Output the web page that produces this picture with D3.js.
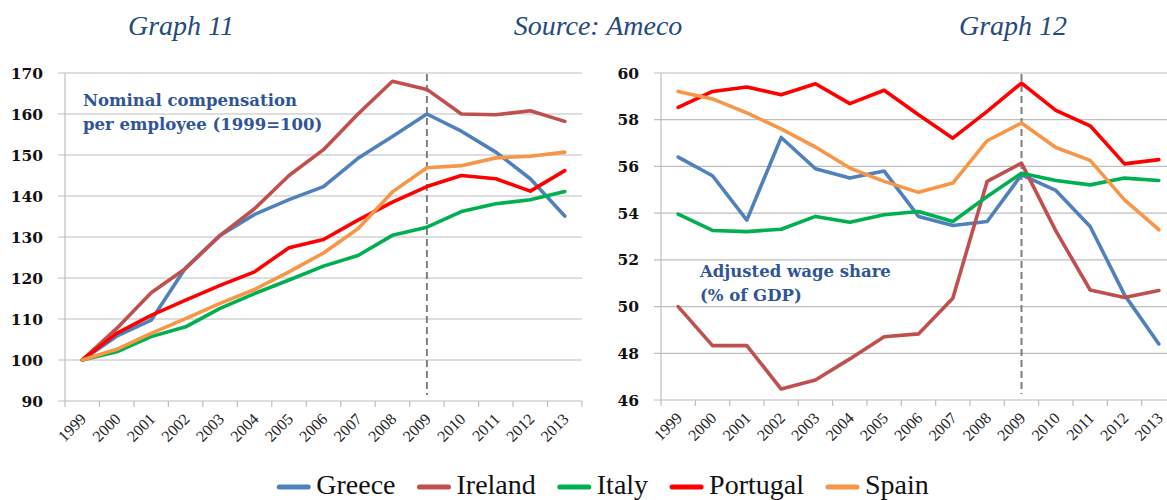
<!DOCTYPE html>
<html>
<head>
<meta http-equiv="Content-Type" content="text/html;charset=utf-8">
<title>Graph 11 / Graph 12</title>
<style>
body { margin: 0; background: #fff; }
svg { display: block; }
</style>
</head>
<body>
<svg id="chart" width="1167" height="500"></svg>
<script src="https://cdn.jsdelivr.net/npm/d3@7"></script>
<script>
var years = ["1999","2000","2001","2002","2003","2004","2005","2006","2007","2008","2009","2010","2011","2012","2013"];
var countries = ["Greece", "Ireland", "Italy", "Portugal", "Spain"];
var colors = ["#4F81BD", "#C0504D", "#00B050", "#FF0000", "#F79646"];

// Graph 11: nominal compensation per employee (1999=100)
var compGreece   = [100, 105.8, 109.7, 122.5, 130.4, 135.5, 139.1, 142.3, 149.2, 154.5, 160.0, 155.8, 150.7, 144.2, 135.1];
var compIreland  = [100, 107.7, 116.4, 122.3, 130.4, 136.9, 145.0, 151.3, 160.0, 168.0, 166.0, 160.0, 159.8, 160.8, 158.2];
var compItaly    = [100, 102.0, 105.7, 108.1, 112.6, 116.2, 119.5, 122.9, 125.5, 130.4, 132.4, 136.2, 138.1, 139.1, 141.1];
var compPortugal = [100, 106.5, 110.9, 114.6, 118.2, 121.5, 127.4, 129.4, 134.1, 138.5, 142.3, 145.0, 144.2, 141.2, 146.2];
var compSpain    = [100, 102.6, 106.5, 110.1, 113.8, 117.2, 121.5, 126.1, 132.0, 141.0, 146.9, 147.4, 149.3, 149.7, 150.7];
var compTicks = [90, 100, 110, 120, 130, 140, 150, 160, 170];

// Graph 12: adjusted wage share (% of GDP)
var wageGreece   = [56.4, 55.6, 53.7, 57.24, 55.9, 55.5, 55.8, 53.86, 53.47, 53.64, 55.64, 54.97, 53.43, 50.5, 48.4];
var wageIreland  = [50.0, 48.33, 48.33, 46.47, 46.86, 47.76, 48.71, 48.83, 50.36, 55.36, 56.14, 53.24, 50.71, 50.39, 50.69];
var wageItaly    = [53.96, 53.26, 53.21, 53.31, 53.86, 53.61, 53.93, 54.07, 53.64, 54.71, 55.71, 55.4, 55.21, 55.5, 55.4];
var wagePortugal = [58.53, 59.21, 59.4, 59.07, 59.54, 58.69, 59.26, 58.21, 57.21, 58.36, 59.57, 58.4, 57.74, 56.11, 56.29];
var wageSpain    = [59.21, 58.89, 58.29, 57.61, 56.83, 55.93, 55.36, 54.89, 55.29, 57.1, 57.86, 56.81, 56.26, 54.57, 53.29];
var wageTicks = [46, 48, 50, 52, 54, 56, 58, 60];

var svg = d3.select("#chart");

function drawPanel(opt) {
    var g = svg.append("g");
    var x = d3.scaleBand().domain(years).range([opt.x0, opt.x1]);
    var y = d3.scaleLinear().domain(opt.domain).range([opt.y0, opt.y1]);

    // gridlines (with small outward ticks)
    g.selectAll("line.grid").data(opt.ticks).enter().append("line")
        .attr("x1", opt.x0 - 7).attr("x2", opt.x1)
        .attr("y1", function(d) { return y(d); }).attr("y2", function(d) { return y(d); })
        .attr("stroke", "#BEBEBE").attr("stroke-width", 1.2);

    // y axis line
    g.append("line").attr("x1", opt.x0).attr("x2", opt.x0)
        .attr("y1", opt.y1).attr("y2", opt.y0)
        .attr("stroke", "#BEBEBE").attr("stroke-width", 1.2);

    // x tick marks at category boundaries
    var bounds = years.map(function(d) { return x(d); }).concat([opt.x1]);
    g.selectAll("line.xt").data(bounds).enter().append("line")
        .attr("x1", function(d) { return d; }).attr("x2", function(d) { return d; })
        .attr("y1", opt.y0).attr("y2", opt.y0 + 6)
        .attr("stroke", "#BEBEBE").attr("stroke-width", 1.2);

    // y tick labels
    g.selectAll("text.yl").data(opt.ticks).enter().append("text")
        .attr("x", opt.x0 - 22).attr("y", function(d) { return y(d) + 5.5; })
        .attr("text-anchor", "end")
        .style("font-family", "'DejaVu Serif', serif").style("font-weight", "bold")
        .style("font-size", "15.5px").attr("fill", "#111")
        .text(function(d) { return d; });

    // x tick labels
    g.selectAll("text.xl").data(years).enter().append("text")
        .attr("transform", function(d) {
            return "translate(" + (x(d) + x.bandwidth() / 2 + 5) + "," + (opt.y0 + 19) + ") rotate(-45)";
        })
        .attr("text-anchor", "end")
        .style("font-family", "'Liberation Serif', serif")
        .style("font-size", "16px").attr("fill", "#222")
        .text(function(d) { return d; });

    // 2009 dashed marker
    g.append("line")
        .attr("x1", x("2009") + x.bandwidth() / 2).attr("x2", x("2009") + x.bandwidth() / 2)
        .attr("y1", opt.y1 + 1).attr("y2", opt.y0 - 6)
        .attr("stroke", "#7F7F7F").attr("stroke-width", 2)
        .attr("stroke-dasharray", "7,4");

    var line = d3.line()
        .x(function(d, i) { return x(years[i]) + x.bandwidth() / 2; })
        .y(function(d) { return y(d); });

    g.selectAll("path.series").data(opt.series).enter().append("path")
        .attr("d", function(d) { return line(d); })
        .attr("fill", "none")
        .attr("stroke", function(d, i) { return colors[i]; })
        .attr("stroke-width", 3.6)
        .attr("stroke-linejoin", "round")
        .attr("stroke-linecap", "round");

    // annotation
    var note = g.append("text")
        .style("font-family", "'DejaVu Serif', serif").style("font-weight", "bold")
        .style("font-size", "16.5px").attr("fill", "#2F5597");
    opt.note.forEach(function(t, i) {
        note.append("tspan").attr("x", opt.noteX).attr("y", opt.noteY + i * 24).text(t);
    });
}

drawPanel({
    x0: 65, x1: 582, y0: 401, y1: 73,
    domain: [90, 170], ticks: compTicks,
    series: [compGreece, compIreland, compItaly, compPortugal, compSpain],
    note: ["Nominal compensation", "per employee (1999=100)"], noteX: 83, noteY: 106
});

drawPanel({
    x0: 661, x1: 1176, y0: 400, y1: 73,
    domain: [46, 60], ticks: wageTicks,
    series: [wageGreece, wageIreland, wageItaly, wagePortugal, wageSpain],
    note: ["Adjusted wage share", "(% of GDP)"], noteX: 700, noteY: 277
});

// titles
var titles = [{t: "Graph 11", x: 181}, {t: "Source: Ameco", x: 598}, {t: "Graph 12", x: 1013}];
svg.selectAll("text.title").data(titles).enter().append("text")
    .attr("x", function(d) { return d.x; }).attr("y", 35)
    .attr("text-anchor", "middle")
    .style("font-family", "'Liberation Serif', serif").style("font-style", "italic")
    .style("font-size", "28px").attr("fill", "#254A7E")
    .text(function(d) { return d.t; });

// legend
var legend = svg.append("g");
var lx = 0;
countries.forEach(function(c, i) {
    var item = legend.append("g").attr("transform", "translate(" + lx + ",0)");
    item.append("line").attr("x1", 2).attr("x2", 31).attr("y1", 487).attr("y2", 487)
        .attr("stroke", colors[i]).attr("stroke-width", 5).attr("stroke-linecap", "round");
    var t = item.append("text").attr("x", 39).attr("y", 494)
        .style("font-family", "'Liberation Serif', serif").style("font-size", "28px")
        .attr("fill", "#111").text(c);
    lx += 39 + t.node().getComputedTextLength() + 22;
});
legend.attr("transform", "translate(" + (603 - (lx - 22) / 2) + ",0)");
</script>
</body>
</html>
